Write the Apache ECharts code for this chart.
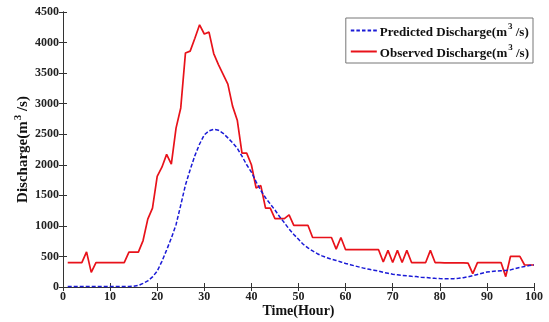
<!DOCTYPE html>
<html><head><meta charset="utf-8">
<script src="https://cdn.jsdelivr.net/npm/echarts@6/dist/echarts.min.js"></script>
<style>html,body{margin:0;padding:0;background:#fff}#c{width:549px;height:322px}</style>
</head><body><div id="c"></div>
<script>
const hours = [1,2,3,4,5,6,7,8,9,10,11,12,13,14,15,16,17,18,19,20,21,22,23,24,25,26,27,28,29,30,31,32,33,34,35,36,37,38,39,40,41,42,43,44,45,46,47,48,49,50,51,52,53,54,55,56,57,58,59,60,61,62,63,64,65,66,67,68,69,70,71,72,73,74,75,76,77,78,79,80,81,82,83,84,85,86,87,88,89,90,91,92,93,94,95,96,97,98,99,100];
const observed = [400,400,400,400,575,240,400,400,400,400,400,400,400,570,570,570,760,1110,1290,1810,1960,2170,2010,2600,2930,3830,3860,4070,4290,4140,4170,3820,3640,3480,3320,2960,2730,2190,2190,2000,1620,1660,1290,1290,1120,1120,1120,1180,1010,1010,1010,1010,810,810,810,810,810,620,810,610,610,610,610,610,610,610,610,410,600,400,600,400,600,400,400,400,400,600,400,400,395,395,395,395,395,390,220,400,400,400,400,400,400,170,500,500,500,360,360,360];
const predicted = [10,10,10,10,10,10,10,10,10,10,10,10,10,10,12,25,60,100,165,260,420,605,800,1020,1340,1670,1920,2150,2340,2490,2555,2580,2565,2515,2440,2360,2270,2140,2000,1880,1720,1580,1460,1360,1260,1150,1050,950,860,780,700,640,590,545,510,480,455,435,410,385,365,345,325,305,290,275,260,240,225,210,200,190,185,175,170,160,155,148,142,138,136,135,137,142,152,168,185,205,225,245,255,262,266,270,280,300,320,335,350,360];
const xTicks = {min:0, max:100, interval:10};
const yTicks = {min:0, max:4500, interval:500};
const seriesNames = ['Predicted Discharge', 'Observed Discharge'];
const unitParts = ['(m', '3', ' /s)'];
const xName = 'Time(Hour)';
const yName = 'Discharge';

const font = 'Liberation Serif';
const pair = (vals) => hours.map((h, i) => [h, vals[i]]);
const axisLine = {show:true, lineStyle:{color:'#333', width:1}};
const tick = {show:true, inside:true, length:4, lineStyle:{color:'#333'}};
const lbl = {fontFamily:font, fontWeight:'bold', fontSize:12, color:'#222', formatter:(v)=>String(v)};
const withUnit = (s) => '{a|' + s + unitParts[0] + '}{s|' + unitParts[1] + '}{a|' + unitParts[2] + '}';
const richFor = (size, lh) => ({
  a:{fontFamily:font, fontWeight:'bold', fontSize:size, color:'#111', lineHeight:lh, verticalAlign:'bottom'},
  s:{fontFamily:font, fontWeight:'bold', fontSize:Math.round(size*0.7), color:'#111', lineHeight:lh, verticalAlign:'top', padding:[0,0,0,1]}
});

const dashIcon = 'path://M0,0h3.5v2h-3.5zM5.6,0h3.5v2h-3.5zM11.2,0h3.5v2h-3.5zM16.8,0h3.5v2h-3.5zM22.4,0h3.6v2h-3.6z';
const solidIcon = 'path://M0,0h26v2h-26z';

const chart = echarts.init(document.getElementById('c'), null, {renderer:'canvas'});
chart.setOption({
  animation:false,
  backgroundColor:'#fff',
  grid:{left:63, right:15, top:12, bottom:35, containLabel:false, outerBoundsMode:'none'},
  legend:{
    orient:'vertical', right:16, top:18,
    backgroundColor:'#fff', borderColor:'#777', borderWidth:1,
    padding:[4,4,3,5], itemGap:4, itemWidth:26, itemHeight:2,
    formatter:(n)=>withUnit(n),
    textStyle:{padding:[0,0,0,-2], rich:richFor(13,17)},
    data:[{name:seriesNames[0], icon:dashIcon}, {name:seriesNames[1], icon:solidIcon}]
  },
  xAxis:[
    {type:'value', ...xTicks, position:'bottom', name:xName, nameLocation:'middle', nameGap:17, nameMoveOverlap:false,
     nameTextStyle:{fontFamily:font, fontWeight:'bold', fontSize:14, color:'#111'},
     axisLine, axisTick:tick, splitLine:{show:false}, axisLabel:{...lbl, margin:4}},
    {type:'value', ...xTicks, position:'top', axisLine, axisTick:tick, splitLine:{show:false}, axisLabel:{show:false}}
  ],
  yAxis:[
    {type:'value', ...yTicks, position:'left', name:withUnit(yName), nameLocation:'middle', nameGap:32, nameMoveOverlap:false,
     nameTextStyle:{rich:richFor(15,18)},
     axisLine, axisTick:tick, splitLine:{show:false}, axisLabel:{...lbl, margin:4}},
    {type:'value', ...yTicks, position:'right', axisLine, axisTick:tick, splitLine:{show:false}, axisLabel:{show:false}}
  ],
  series:[
    {name:seriesNames[0], type:'line', xAxisIndex:0, yAxisIndex:0, data:pair(predicted), showSymbol:false, symbol:'none',
     lineStyle:{color:'#1a1ad6', width:1.5, type:[4,2]}, itemStyle:{color:'#1a1ad6'}, z:3},
    {name:seriesNames[1], type:'line', xAxisIndex:0, yAxisIndex:0, data:pair(observed), showSymbol:false, symbol:'none',
     lineStyle:{color:'#e8121a', width:1.7}, itemStyle:{color:'#e8121a'}, z:2}
  ]
});
</script></body></html>
